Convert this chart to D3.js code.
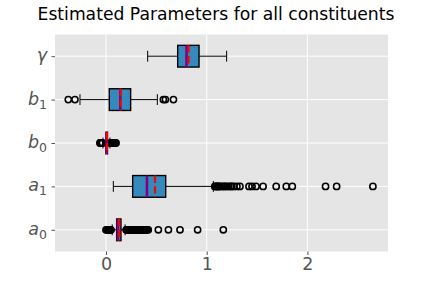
<!DOCTYPE html>
<html>
<head>
<meta charset="utf-8">
<script src="https://cdn.jsdelivr.net/npm/d3@7"></script>
<style>
  body { margin: 0; background: #fff; }
  text { font-family: "DejaVu Sans", sans-serif; }
</style>
</head>
<body>
<div id="chart"></div>
<script>
// categories from bottom (position 1) to top (position 5)
var labels = [["a", "0"], ["a", "1"], ["b", "0"], ["b", "1"], ["γ", ""]];
var xTicks = [0, 1, 2];

// box stats per category: whisker low, q1, median, q3, whisker high, mean
var whiskLo = [0.062, 0.073, -0.03, -0.258, 0.414];
var q1s     = [0.106, 0.265, 0.000, 0.033, 0.712];
var medians = [0.119, 0.407, 0.007, 0.142, 0.800];
var q3s     = [0.149, 0.593, 0.015, 0.245, 0.924];
var whiskHi = [0.190, 1.066, 0.040, 0.510, 1.198];
var means   = [0.132, 0.487, 0.010, 0.145, 0.820];

// fliers
var fliers = [
  [0.0, 0.01, 0.02, 0.03, 0.035, 0.04, 0.045, 0.05,
   0.20, 0.21, 0.22, 0.23, 0.24, 0.25, 0.26, 0.27, 0.28, 0.29, 0.30, 0.31,
   0.32, 0.33, 0.34, 0.35, 0.36, 0.37, 0.38, 0.39, 0.40, 0.41, 0.42,
   0.52, 0.62, 0.735, 0.91, 1.165],
  [1.08, 1.09, 1.10, 1.11, 1.12, 1.13, 1.15, 1.17, 1.18, 1.20, 1.22, 1.24,
   1.25, 1.27, 1.30, 1.33, 1.42, 1.45, 1.49, 1.56, 1.69, 1.79, 1.85,
   2.18, 2.29, 2.65],
  [-0.06, -0.055, -0.05, -0.045, -0.04, -0.035, 0.045, 0.05, 0.055, 0.06,
   0.065, 0.07, 0.075, 0.08, 0.09, 0.10],
  [-0.374, -0.308, 0.57, 0.59, 0.67],
  []
];

var svgWidth = 432;
var svgHeight = 288;
var margin = { top: 34.5, right: 44, bottom: 36.5, left: 55 };
var chartWidth = svgWidth - margin.left - margin.right;
var chartHeight = svgHeight - margin.top - margin.bottom;

var svg = d3.select("#chart")
  .append("svg")
  .attr("width", svgWidth)
  .attr("height", svgHeight);

// title
svg.append("text")
  .attr("x", svgWidth / 2)
  .attr("y", 20)
  .attr("text-anchor", "middle")
  .attr("font-size", 17.2)
  .attr("fill", "#000")
  .text("Estimated Parameters for all constituents");

var chartGroup = svg.append("g")
  .attr("transform", `translate(${margin.left}, ${margin.top})`);

var xScale = d3.scaleLinear()
  .domain([-0.506, 2.80])
  .range([0, chartWidth]);

var yScale = d3.scaleLinear()
  .domain([0.5, 5.5])
  .range([chartHeight, 0]);

// background
chartGroup.append("rect")
  .attr("width", chartWidth)
  .attr("height", chartHeight)
  .attr("fill", "#E5E5E5");

// grid
chartGroup.selectAll(".vgrid")
  .data(xTicks)
  .enter()
  .append("line")
  .attr("x1", d => xScale(d))
  .attr("x2", d => xScale(d))
  .attr("y1", 0)
  .attr("y2", chartHeight)
  .attr("stroke", "#fff")
  .attr("stroke-width", 1);

chartGroup.selectAll(".hgrid")
  .data(labels)
  .enter()
  .append("line")
  .attr("x1", 0)
  .attr("x2", chartWidth)
  .attr("y1", (d, i) => yScale(i + 1))
  .attr("y2", (d, i) => yScale(i + 1))
  .attr("stroke", "#fff")
  .attr("stroke-width", 1);

// x axis
var bottomAxis = d3.axisBottom(xScale)
  .tickValues(xTicks)
  .tickFormat(d3.format("d"))
  .tickSize(3.5)
  .tickPadding(3);

var xAxis = chartGroup.append("g")
  .attr("transform", `translate(0, ${chartHeight})`)
  .call(bottomAxis);
xAxis.select(".domain").remove();
xAxis.selectAll("line").attr("stroke", "#555");
xAxis.selectAll("text")
  .attr("fill", "#555")
  .attr("font-size", 17.5)
  .attr("font-family", "DejaVu Sans");

// y axis
var leftAxis = d3.axisLeft(yScale)
  .tickValues([1, 2, 3, 4, 5])
  .tickFormat("")
  .tickSize(3.5);

var yAxis = chartGroup.append("g").call(leftAxis);
yAxis.select(".domain").remove();
yAxis.selectAll("line").attr("stroke", "#555");

labels.forEach(function(lab, i) {
  var t = chartGroup.append("text")
    .attr("x", -8)
    .attr("y", yScale(i + 1) + 5)
    .attr("text-anchor", "end")
    .attr("fill", "#555")
    .attr("font-size", 17.5)
    .attr("font-style", "italic");
  t.append("tspan").text(lab[0]);
  if (lab[1] !== "") {
    t.append("tspan")
      .attr("font-size", 12.5)
      .attr("font-style", "normal")
      .attr("dy", 4)
      .text(lab[1]);
  }
});

var boxH = yScale(0) - yScale(0.5);   // box width 0.5
var capH = boxH / 2;

var boxes = chartGroup.selectAll(".box")
  .data(labels)
  .enter()
  .append("g")
  .attr("transform", (d, i) => `translate(0, ${yScale(i + 1)})`);

// whiskers
boxes.append("line")
  .attr("x1", (d, i) => xScale(whiskLo[i]))
  .attr("x2", (d, i) => xScale(q1s[i]))
  .attr("stroke", "#000");
boxes.append("line")
  .attr("x1", (d, i) => xScale(q3s[i]))
  .attr("x2", (d, i) => xScale(whiskHi[i]))
  .attr("stroke", "#000");

// caps
boxes.append("line")
  .attr("x1", (d, i) => xScale(whiskLo[i]))
  .attr("x2", (d, i) => xScale(whiskLo[i]))
  .attr("y1", -capH / 2)
  .attr("y2", capH / 2)
  .attr("stroke", "#000");
boxes.append("line")
  .attr("x1", (d, i) => xScale(whiskHi[i]))
  .attr("x2", (d, i) => xScale(whiskHi[i]))
  .attr("y1", -capH / 2)
  .attr("y2", capH / 2)
  .attr("stroke", "#000");

// box
boxes.append("rect")
  .attr("x", (d, i) => xScale(q1s[i]))
  .attr("y", -boxH / 2)
  .attr("width", (d, i) => xScale(q3s[i]) - xScale(q1s[i]))
  .attr("height", boxH)
  .attr("fill", "#348ABD")
  .attr("stroke", "#000")
  .attr("stroke-width", 1.4);

// fliers
boxes.each(function(d, i) {
  d3.select(this).selectAll("circle")
    .data(fliers[i])
    .enter()
    .append("circle")
    .attr("cx", v => xScale(v))
    .attr("cy", 0)
    .attr("r", 3.1)
    .attr("fill", "none")
    .attr("stroke", "#000")
    .attr("stroke-width", 1.6);
});

// median
boxes.append("line")
  .attr("x1", (d, i) => xScale(medians[i]))
  .attr("x2", (d, i) => xScale(medians[i]))
  .attr("y1", -boxH / 2)
  .attr("y2", boxH / 2)
  .attr("stroke", "purple")
  .attr("stroke-width", 2.6);

// mean
boxes.append("line")
  .attr("x1", (d, i) => xScale(means[i]))
  .attr("x2", (d, i) => xScale(means[i]))
  .attr("y1", -boxH / 2)
  .attr("y2", boxH / 2)
  .attr("stroke", "red")
  .attr("stroke-width", 2.2)
  .attr("stroke-dasharray", "7.4,3.2");
</script>
</body>
</html>
